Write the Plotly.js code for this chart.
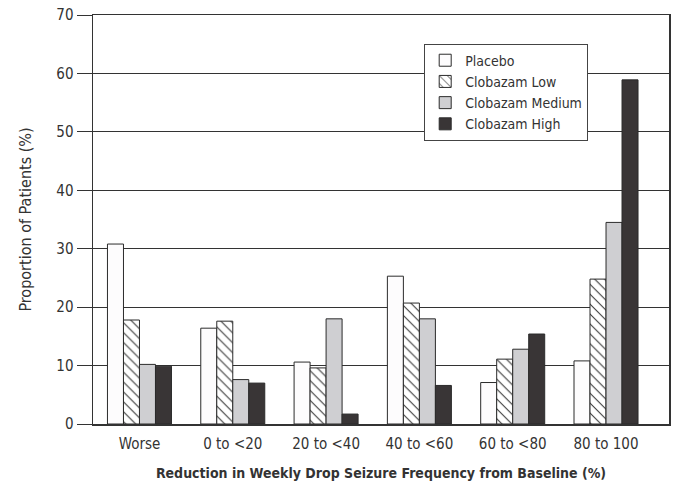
<!DOCTYPE html>
<html>
<head>
<meta charset="utf-8">
<script src="https://cdn.plot.ly/plotly-3.0.1.min.js"></script>
<style>html,body{margin:0;padding:0;background:#fff;}#chart{width:680px;height:487px;}</style>
</head>
<body>
<div id="chart"></div>
<script>
const categories = ["Worse", "0 to <20", "20 to <40", "40 to <60", "60 to <80", "80 to 100"];
const seriesNames = ["Placebo", "Clobazam Low", "Clobazam Medium", "Clobazam High"];
const placebo = [30.8, 16.4, 10.6, 25.3, 7.1, 10.8];
const clobazamLow = [17.8, 17.6, 9.6, 20.7, 11.1, 24.8];
const clobazamMedium = [10.2, 7.6, 18.0, 18.0, 12.8, 34.5];
const clobazamHigh = [9.9, 7.0, 1.7, 6.6, 15.4, 58.9];
const yTicks = [0, 10, 20, 30, 40, 50, 60, 70];

const FONT = "'Liberation Sans Narrow', 'DejaVu Sans Condensed', 'Liberation Sans', Arial, sans-serif";
const xs = categories.map((c, i) => i);

const styles = [
  {color: "#fdfcfd", pattern: {shape: ""}},
  {color: "#ffffff", pattern: {shape: "\\", fgcolor: "#333333", bgcolor: "#ffffff", size: 7, solidity: 0.15}},
  {color: "#cfcfd2", pattern: {shape: ""}},
  {color: "#393536", pattern: {shape: ""}}
];
const values = [placebo, clobazamLow, clobazamMedium, clobazamHigh];

const traces = values.map((v, k) => ({
  type: "bar",
  name: seriesNames[k],
  x: xs,
  y: v,
  marker: {color: styles[k].color, pattern: styles[k].pattern, line: {color: "#2b2b2b", width: 1}},
  hoverinfo: "none"
}));

const layout = {
  width: 680, height: 487,
  margin: {l: 93, r: 11, t: 15, b: 63},
  paper_bgcolor: "#ffffff",
  plot_bgcolor: "#ffffff",
  barmode: "group",
  bargap: 0.314,
  bargroupgap: 0,
  font: {family: FONT, color: "#333333", size: 15},
  showlegend: true,
  legend: {
    x: 0.575, y: 0.93, xanchor: "left", yanchor: "top",
    bgcolor: "#ffffff", bordercolor: "#444444", borderwidth: 1,
    font: {family: FONT, size: 14, color: "#333333"},
    tracegroupgap: 0,
    itemwidth: 30
  },
  xaxis: {
    range: [-0.498, 5.675],
    tickmode: "array", tickvals: xs, ticktext: categories,
    ticks: "", showgrid: false, zeroline: false,
    showline: true, linecolor: "#333333", linewidth: 1.5, mirror: true,
    ticklabelstandoff: 5,
    tickfont: {family: FONT, size: 15, color: "#333333"},
    title: {text: "<b>Reduction in Weekly Drop Seizure Frequency from Baseline (%)</b>", font: {family: FONT, size: 14, color: "#333333"}, standoff: 16}
  },
  yaxis: {
    range: [0, 70],
    tickmode: "array", tickvals: yTicks,
    ticks: "outside", ticklen: 15, tickcolor: "#333333", tickwidth: 1,
    showgrid: true, gridcolor: "#333333", gridwidth: 1,
    zeroline: false,
    showline: true, linecolor: "#333333", linewidth: 1.5, mirror: true,
    tickfont: {family: FONT, size: 15, color: "#333333"},
    title: {text: "Proportion of Patients (%)", font: {family: FONT, size: 16, color: "#333333"}, standoff: 20}
  }
};

Plotly.newPlot("chart", traces, layout, {displayModeBar: false, staticPlot: true});
</script>
</body>
</html>
